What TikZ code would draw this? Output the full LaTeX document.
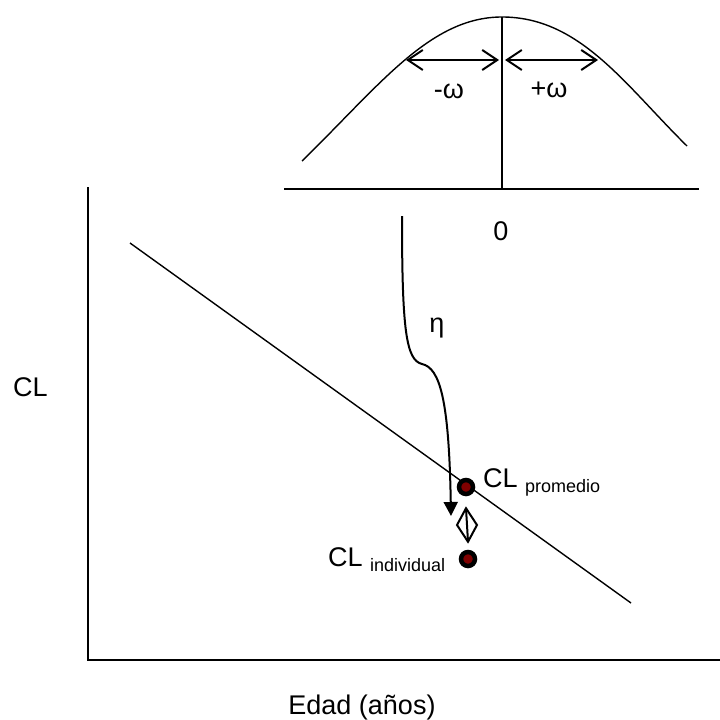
\documentclass[tikz,border=0pt]{standalone}
\usepackage{fontspec}
\setmainfont{Liberation Sans}
\usetikzlibrary{arrows.meta,calc}
\definecolor{dotred}{RGB}{128,0,0}
\tikzset{
  axis/.style={line width=1.8pt},
  thin line/.style={line width=1.4pt},
  wlab/.style={inner sep=0pt, font=\fontsize{27}{32}\selectfont},
  barbarrow/.style={line width=2pt, {Straight Barb[length=15pt,width=20pt]}-{Straight Barb[length=15pt,width=20pt]}},
  dot/.style={circle, draw=black, line width=4.5pt, fill=dotred, minimum size=14pt, inner sep=0pt},
  etaarrow/.style={line width=2pt, -{Triangle[length=14pt,width=14pt]}},
}
\newcommand{\subtx}[1]{\raisebox{-5pt}{\fontsize{18}{21}\selectfont #1}}
\begin{document}
\begin{tikzpicture}[x=1pt,y=-1pt]
\useasboundingbox (0,0) rectangle (720,720);
% main axes
\coordinate (ytop) at (88,187);
\coordinate (orig) at (88,660);
\coordinate (xend) at (720,660);
\draw[axis] (ytop) -- (orig) -- (xend);
% regression line
\coordinate (rl1) at (130,243);
\coordinate (rl2) at (631,603);
\draw[thin line] (rl1) -- (rl2);
% top distribution
\coordinate (bl) at (284,189);
\coordinate (br) at (699,189);
\coordinate (peak) at (502,17);
\coordinate (vbase) at (502,189);
\coordinate (cl) at (302,161);
\coordinate (cr) at (687,146);
\draw[thin line] (bl) -- (br);
\draw[thin line] (peak) -- (vbase);
\draw[thin line] (cl) .. controls (380,85) and (430,17) .. (peak)
  .. controls (580,17) and (625,85) .. (cr);
\coordinate (wl) at (406,60);
\coordinate (wm1) at (499,60);
\coordinate (wm2) at (505,60);
\coordinate (wr) at (598,60);
\draw[barbarrow] (wl) -- (wm1);
\draw[barbarrow] (wm2) -- (wr);
\node[wlab, anchor=base] (wminus) at (449,98) {-ω};
\node[wlab, anchor=base] (wplus) at (549,97) {+ω};
\node[wlab, anchor=base] (zero) at (501,240) {0};
% eta arrow
\coordinate (etastart) at (402,216);
\coordinate (etaend) at (451,516);
\draw[etaarrow] (etastart) .. controls (402,330) and (406,360) .. (422,364)
  .. controls (440,368) and (449,400) .. (etaend);
\node[wlab, anchor=base] (eta) at (437,332) {η};
% dots
\node[dot] (prom) at (466,487) {};
\node[dot] (ind) at (468,559) {};
\node[wlab, anchor=base west] (promlab) at (483,487) {CL \subtx{promedio}};
\node[wlab, anchor=base west] (indlab) at (328,566) {CL \subtx{individual}};
% diamond double arrow
\coordinate (da) at ([yshift=-12pt]prom.south);
\coordinate (db) at ([yshift=8pt]ind.north);
\draw[line width=2pt, line join=miter] (da) -- ($(da)!0.5!(db)+(-10,0)$) -- (db) -- ($(da)!0.5!(db)+(10,0)$) -- cycle;
\draw[line width=2pt] (da) -- (db);
% axis labels
\node[wlab, anchor=base west] (ylab) at (13,396) {CL};
\node[wlab, anchor=base] (xlab) at (362,714) {Edad (años)};
\end{tikzpicture}
\end{document}
